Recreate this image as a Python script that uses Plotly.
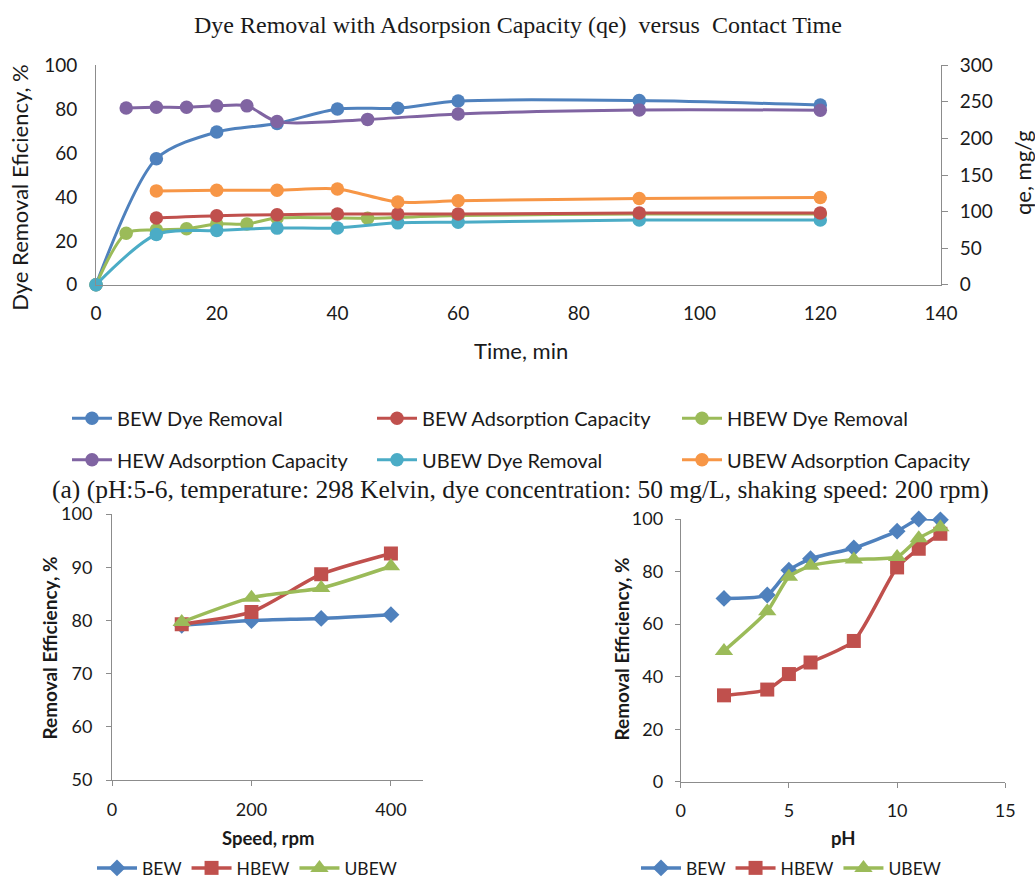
import plotly.graph_objects as go

# ---------------- Data: top chart (contact time) ----------------
bew_dr_t = [0, 10, 20, 30, 40, 50, 60, 90, 120]
bew_dr = [0, 57.4, 69.6, 73.5, 80.1, 80.4, 83.7, 83.9, 81.9]

bew_ac_t = [10, 20, 30, 40, 50, 60, 90, 120]
bew_ac = [91.3, 94.4, 95.8, 96.7, 96.7, 96.7, 98.0, 98.0]

hbew_dr_t = [0, 5, 10, 15, 20, 25, 30, 45, 60, 90, 120]
hbew_dr = [0, 23.5, 25.0, 25.5, 27.7, 27.7, 30.4, 30.3, 31.5, 32.2, 32.2]

hew_ac_t = [5, 10, 15, 20, 25, 30, 45, 60, 90, 120]
hew_ac = [241.5, 242.5, 242.5, 244.5, 244.5, 223.0, 226.0, 233.5, 239.0, 238.6]

ubew_dr_t = [0, 10, 20, 30, 40, 50, 60, 90, 120]
ubew_dr = [0, 22.9, 24.7, 25.8, 25.9, 28.2, 28.5, 29.5, 29.5]

ubew_ac_t = [10, 20, 30, 40, 50, 60, 90, 120]
ubew_ac = [128.3, 129.2, 129.2, 131.0, 113.0, 114.8, 117.9, 119.3]

# ---------------- Data: bottom-left (speed) ----------------
speed = [100, 200, 300, 400]
speed_bew = [79.1, 80.0, 80.4, 81.1]
speed_hbew = [79.3, 81.6, 88.7, 92.6]
speed_ubew = [79.7, 84.3, 86.1, 90.2]

# ---------------- Data: bottom-right (pH) ----------------
ph = [2, 4, 5, 6, 8, 10, 11, 12]
ph_bew = [69.8, 71.1, 80.5, 84.9, 89.0, 95.4, 100.0, 99.7]
ph_hbew = [32.9, 35.1, 41.0, 45.4, 53.6, 81.6, 88.7, 94.4]
ph_ubew = [49.8, 64.9, 78.0, 82.2, 84.6, 85.6, 92.7, 96.9]

C_BLUE = "#4F81BD"
C_RED = "#C0504D"
C_GREEN = "#9BBB59"
C_PURPLE = "#8064A2"
C_CYAN = "#4BACC6"
C_ORANGE = "#F79646"

FONT = "Lato"
TXT = "#1a1a1a"
AX = "#8c8c8c"

W, H = 1035, 886


def px(x):
    return x / W


def py(y):
    return 1 - y / H


fig = go.Figure()


def top_trace(x, y, name, color, yaxis, legend):
    fig.add_trace(go.Scatter(
        x=x, y=y, name=name, mode="lines+markers",
        line=dict(color=color, width=3, shape="spline", smoothing=0.8),
        marker=dict(color=color, size=13.5, symbol="circle"),
        cliponaxis=False,
        xaxis="x", yaxis=yaxis, legend=legend))


top_trace(bew_dr_t, bew_dr, "BEW Dye Removal", C_BLUE, "y", "legend")
top_trace(bew_ac_t, bew_ac, "BEW Adsorption Capacity", C_RED, "y2", "legend")
top_trace(hbew_dr_t, hbew_dr, "HBEW Dye Removal", C_GREEN, "y", "legend")
top_trace(hew_ac_t, hew_ac, "HEW Adsorption Capacity", C_PURPLE, "y2", "legend2")
top_trace(ubew_dr_t, ubew_dr, "UBEW Dye Removal", C_CYAN, "y", "legend2")
top_trace(ubew_ac_t, ubew_ac, "UBEW Adsorption Capacity", C_ORANGE, "y2", "legend2")


def bottom_trace(x, y, name, color, symbol, size, xa, ya, legend):
    fig.add_trace(go.Scatter(
        x=x, y=y, name=name, mode="lines+markers",
        line=dict(color=color, width=3.5, shape="spline", smoothing=0.6),
        marker=dict(color=color, size=size, symbol=symbol),
        cliponaxis=False,
        xaxis=xa, yaxis=ya, legend=legend))


bottom_trace(speed, speed_bew, "BEW", C_BLUE, "diamond", 13, "x3", "y3", "legend3")
bottom_trace(speed, speed_hbew, "HBEW", C_RED, "square", 14, "x3", "y3", "legend3")
bottom_trace(speed, speed_ubew, "UBEW", C_GREEN, "triangle-up", 16, "x3", "y3", "legend3")

bottom_trace(ph, ph_bew, "BEW", C_BLUE, "diamond", 13, "x4", "y4", "legend4")
bottom_trace(ph, ph_hbew, "HBEW", C_RED, "square", 14, "x4", "y4", "legend4")
bottom_trace(ph, ph_ubew, "UBEW", C_GREEN, "triangle-up", 16, "x4", "y4", "legend4")

axis_common = dict(showgrid=False, zeroline=False, showline=True, linecolor=AX,
                   linewidth=1, automargin=False, tickcolor=AX)

fig.update_layout(
    width=W, height=H,
    margin=dict(l=0, r=0, t=0, b=0),
    paper_bgcolor="white", plot_bgcolor="white",
    font=dict(family=FONT, color=TXT),
    xaxis=dict(domain=[px(96), px(941)], range=[0, 140], dtick=20, anchor="y",
               ticks="", tickfont=dict(size=19, color=TXT), ticklabelstandoff=11,
               **axis_common),
    yaxis=dict(domain=[py(288), py(66)], range=[0, 100], dtick=20, anchor="x",
               ticks="", tickfont=dict(size=19, color=TXT), ticklabelstandoff=14,
               **axis_common),
    yaxis2=dict(domain=[py(288), py(66)], range=[0, 300], dtick=50, anchor="x",
                overlaying="y", side="right", ticks="outside", ticklen=6,
                tickfont=dict(size=19, color=TXT), ticklabelstandoff=8,
                **axis_common),
    xaxis3=dict(domain=[px(112), px(423)], range=[0, 446], tickvals=[0, 200, 400],
                anchor="y3", ticks="outside", ticklen=5,
                tickfont=dict(size=18, color=TXT), ticklabelstandoff=8,
                **axis_common),
    yaxis3=dict(domain=[py(789), py(520)], range=[50, 100], dtick=10, anchor="x3",
                ticks="outside", ticklen=5,
                tickfont=dict(size=18, color=TXT), ticklabelstandoff=10,
                **axis_common),
    xaxis4=dict(domain=[px(680.7), px(1005.3)], range=[0, 15], dtick=5,
                anchor="y4", ticks="outside", ticklen=5,
                tickfont=dict(size=18, color=TXT), ticklabelstandoff=8,
                **axis_common),
    yaxis4=dict(domain=[py(790.7), py(525)], range=[0, 100], dtick=20, anchor="x4",
                ticks="outside", ticklen=5,
                tickfont=dict(size=18, color=TXT), ticklabelstandoff=8,
                **axis_common),
    legend=dict(orientation="h", x=px(67), xanchor="left", y=py(423), yanchor="middle",
                font=dict(size=20, color=TXT), entrywidth=250, entrywidthmode="pixels",
                itemwidth=40, bgcolor="rgba(0,0,0,0)"),
    legend2=dict(orientation="h", x=px(67), xanchor="left", y=py(465), yanchor="middle",
                 font=dict(size=20, color=TXT), entrywidth=250, entrywidthmode="pixels",
                 itemwidth=40, bgcolor="rgba(0,0,0,0)"),
    legend3=dict(orientation="h", x=px(247), xanchor="center", y=py(878), yanchor="middle",
                 font=dict(size=17.5, color=TXT), itemwidth=40, bgcolor="rgba(0,0,0,0)"),
    legend4=dict(orientation="h", x=px(791), xanchor="center", y=py(878), yanchor="middle",
                 font=dict(size=17.5, color=TXT), itemwidth=40, bgcolor="rgba(0,0,0,0)"),
    showlegend=True,
)

NB = "\u00a0"
annotations = [
    dict(text="Dye Removal with Adsorpsion Capacity (qe)" + NB * 2 + "versus" + NB * 2 + "Contact Time",
         x=px(518), y=py(25), font=dict(family="Liberation Serif", size=24, color=TXT)),
    dict(text="(a) (pH:5-6, temperature: 298 Kelvin, dye concentration: 50 mg/L, shaking speed: 200 rpm)",
         x=px(520), y=py(495), font=dict(family="Liberation Serif", size=25.5, color=TXT)),
    dict(text="Time, min", x=px(521), y=py(355), font=dict(size=22, color=TXT)),
    dict(text="Dye Removal Eficiency, %", x=px(20), y=py(190), textangle=-90,
         font=dict(size=22, color=TXT)),
    dict(text="qe, mg/g", x=px(1022), y=py(175), textangle=-90,
         font=dict(size=22, color=TXT)),
    dict(text="<b>Speed, rpm</b>", x=px(268), y=py(848), font=dict(size=18.5, color=TXT)),
    dict(text="<b>Removal Efficiency, %</b>", x=px(50), y=py(656), textangle=-90,
         font=dict(size=19, color=TXT)),
    dict(text="<b>pH</b>", x=px(843), y=py(848), font=dict(size=18.5, color=TXT)),
    dict(text="<b>Removal Efficiency, %</b>", x=px(622), y=py(657), textangle=-90,
         font=dict(size=19, color=TXT)),
]
for a in annotations:
    a.update(xref="paper", yref="paper", showarrow=False, xanchor="center", yanchor="middle")
fig.update_layout(annotations=annotations)

fig.write_html("out.html")
